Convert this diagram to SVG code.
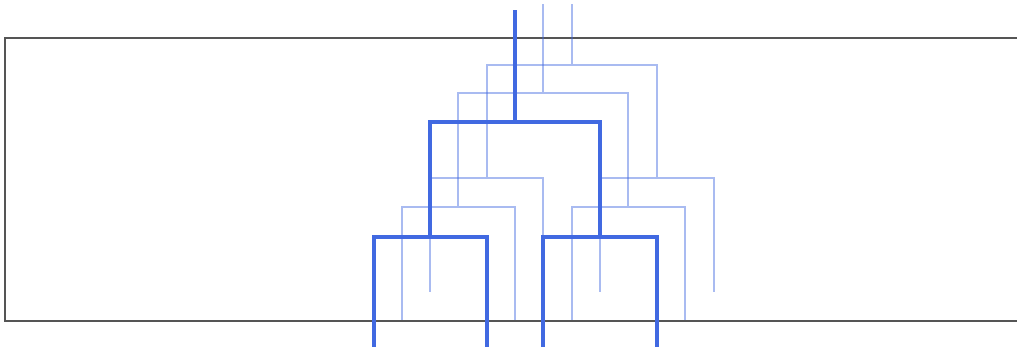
<svg xmlns="http://www.w3.org/2000/svg" width="1017" height="347" viewBox="0 0 1017 347">
<style>
.frame{fill:#ffffff;stroke:#555555;stroke-width:2}
.species{fill:none;stroke:#4169e1;stroke-width:4;stroke-linejoin:miter;stroke-linecap:butt}
.gene{fill:none;stroke:#4169e1;stroke-opacity:0.45;stroke-width:2;stroke-linejoin:miter}
</style>
<g id="frame"><rect class="frame" x="5" y="38" width="1030" height="283"/></g>
<g id="connectors">
<g id="gene-tree-2"><path class="gene" d="M572,4 V65 M487,178 V65 H657 V178 M430,292 V178 H543 V292 M600,292 V178 H714 V292"/></g>
<g id="gene-tree-1"><path class="gene" d="M543,4 V93 M458,207 V93 H628 V207 M402,320 V207 H515 V320 M572,320 V207 H685 V320"/></g>
<g id="species-tree"><path class="species" d="M515,10 V122 M430,237 V122 H600 V237 M374,347 V237 H487 V347 M543,347 V237 H657 V347"/></g>
</g>
</svg>
